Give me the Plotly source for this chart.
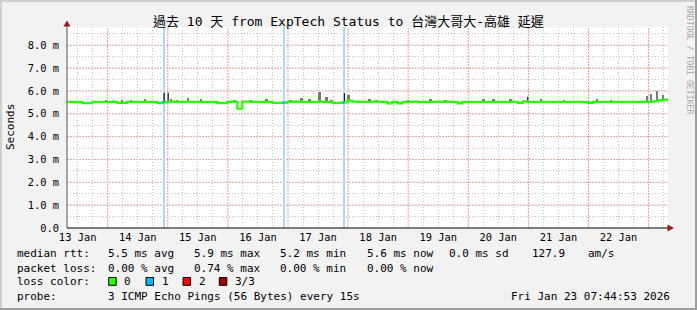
import numpy as np
import pandas as pd
import plotly.graph_objects as go

# ---------------- data ----------------
TITLE = "過去 10 天 from ExpTech Status to 台灣大哥大-高雄 延遲"
START = "2026-01-13 07:45"
END = "2026-01-23 07:45"
STEP_HOURS = 2

# median rtt (ms), one value per 2-hour step from START
MEDIAN_MS = [
    5.52, 5.52, 5.51, 5.47, 5.47, 5.52, 5.52, 5.52, 5.52, 5.52, 5.48, 5.48,
    5.52, 5.52, 5.52, 5.52, 5.52, 5.52, 5.47, 5.50, 5.53, 5.53, 5.52, 5.52,
    5.53, 5.52, 5.52, 5.52, 5.52, 5.52, 5.47, 5.47, 5.52, 5.52, 5.22, 5.53,
    5.53, 5.52, 5.52, 5.52, 5.52, 5.48, 5.48, 5.49, 5.52, 5.53, 5.53, 5.52,
    5.52, 5.52, 5.53, 5.52, 5.52, 5.47, 5.48, 5.50, 5.58, 5.53, 5.52, 5.52,
    5.52, 5.53, 5.52, 5.52, 5.46, 5.52, 5.46, 5.52, 5.52, 5.53, 5.52, 5.52,
    5.52, 5.52, 5.53, 5.52, 5.52, 5.52, 5.46, 5.52, 5.52, 5.52, 5.52, 5.52,
    5.52, 5.52, 5.52, 5.52, 5.52, 5.52, 5.48, 5.55, 5.52, 5.52, 5.52, 5.52,
    5.52, 5.52, 5.52, 5.52, 5.52, 5.52, 5.52, 5.52, 5.48, 5.52, 5.52, 5.52,
    5.52, 5.52, 5.52, 5.52, 5.52, 5.52, 5.52, 5.52, 5.52, 5.55, 5.60, 5.62,
    5.60,
]

# smoke (ping spread) peaks above the median
SMOKE_TIMES = [
    "2026-01-13 23:20", "2026-01-14 05:45", "2026-01-14 09:21", "2026-01-14 14:57",
    "2026-01-15 01:21", "2026-01-15 03:45", "2026-01-15 08:09", "2026-01-15 13:21",
    "2026-01-16 02:33", "2026-01-16 08:57", "2026-01-16 15:21", "2026-01-17 00:57",
    "2026-01-17 05:21", "2026-01-17 08:33", "2026-01-17 12:33", "2026-01-17 15:21",
    "2026-01-17 17:21", "2026-01-18 00:09", "2026-01-18 08:33", "2026-01-18 11:21",
    "2026-01-19 00:09", "2026-01-19 08:57", "2026-01-19 14:57", "2026-01-20 06:09",
    "2026-01-20 10:09", "2026-01-20 16:57", "2026-01-21 04:57", "2026-01-21 14:09",
    "2026-01-22 03:21", "2026-01-22 08:57", "2026-01-22 23:21", "2026-01-23 00:57",
    "2026-01-23 03:21", "2026-01-23 05:45",
]
SMOKE_TOP_MS = [
    5.62, 5.62, 5.60, 5.63,
    5.65, 5.60, 5.68, 5.65,
    5.60, 5.58, 5.65, 5.60,
    5.70, 5.65, 5.95, 5.72,
    5.60, 5.83, 5.65, 5.60,
    5.60, 5.65, 5.60, 5.65,
    5.65, 5.65, 5.66, 5.60,
    5.65, 5.60, 5.77, 5.87,
    6.00, 5.83,
]

# dark single-ping outliers
SPIKE_TIMES = ["2026-01-14 22:33", "2026-01-15 00:09", "2026-01-17 22:33", "2026-01-20 23:45"]
SPIKE_TOP_MS = [5.92, 5.92, 5.90, 5.75]

# packet-loss events (lost pings out of 3)
LOSS_TIMES = ["2026-01-14 22:30", "2026-01-16 22:30", "2026-01-17 22:30"]
LOSS_COUNT = [1, 1, 1]

Y_TICKS = [0, 1, 2, 3, 4, 5, 6, 7, 8]
Y_TICK_LABELS = ["0.0", "1.0 m", "2.0 m", "3.0 m", "4.0 m", "5.0 m", "6.0 m", "7.0 m", "8.0 m"]
Y_MAX = 8.8

LOSS_LEVELS = ["0", "1", "2", "3/3"]
LOSS_COLORS = ["#26ff00", "#00b8ff", "#ff0000", "#a00000"]

RTT_ITEMS = ["5.5 ms avg", "5.9 ms max", "5.2 ms min", "5.6 ms now", "0.0 ms sd", "127.9", "am/s"]
LOSS_ITEMS = ["0.00 % avg", "0.74 % max", "0.00 % min", "0.00 % now"]
PROBE_TEXT = "3 ICMP Echo Pings (56 Bytes) every 15s"
STAMP_TEXT = "Fri Jan 23 07:44:53 2026"

# ---------------- geometry ----------------
W, H = 697, 310
L, R, T, B = 67, 668, 27, 228
PW, PH = R - L, B - T


def px(x):
    return (x - L) / PW


def py(y):
    return (B - y) / PH


MONO = "DejaVu Sans Mono, Noto Sans CJK TC, monospace"
BG = "#f2f2f2"

start = pd.Timestamp(START)
end = pd.Timestamp(END)
t_med = pd.date_range(start, periods=len(MEDIAN_MS), freq=f"{STEP_HOURS}h")
med = np.array(MEDIAN_MS)
ms_per_px = (end - start).total_seconds() * 1000 / PW


def median_at(ts):
    idx = np.searchsorted(t_med.values, np.array(pd.to_datetime(ts), dtype="datetime64[ns]"), side="right") - 1
    return med[np.clip(idx, 0, len(med) - 1)]


fig = go.Figure()

# loss vertical bars
loss_t = pd.to_datetime(LOSS_TIMES)
fig.add_trace(go.Bar(
    x=loss_t, y=[Y_MAX] * len(LOSS_TIMES), width=2 * ms_per_px,
    marker=dict(color="#a8dcf6", line=dict(width=0)), hoverinfo="skip", showlegend=False,
))

# smoke bars
smoke_t = pd.to_datetime(SMOKE_TIMES)
smoke_base = median_at(SMOKE_TIMES)
fig.add_trace(go.Bar(
    x=smoke_t, y=np.array(SMOKE_TOP_MS) - smoke_base, base=smoke_base, width=2.5 * ms_per_px,
    marker=dict(color="#7a7a7a", line=dict(width=0)), hoverinfo="skip", showlegend=False,
))

# spikes
spike_t = pd.to_datetime(SPIKE_TIMES)
spike_base = median_at(SPIKE_TIMES)
sx, sy = [], []
for t, b, top in zip(spike_t, spike_base, SPIKE_TOP_MS):
    sx += [t, t, None]
    sy += [b, top, None]
fig.add_trace(go.Scatter(x=sx, y=sy, mode="lines", line=dict(color="#111111", width=1.2),
                         hoverinfo="skip", showlegend=False))

# median line (step)
t_line = list(t_med) + [t_med[-1] + pd.Timedelta(hours=STEP_HOURS)]
v_line = list(med) + [med[-1]]
fig.add_trace(go.Scatter(x=t_line, y=v_line, mode="lines", line=dict(color=LOSS_COLORS[0], width=2.2, shape="hv"),
                         hoverinfo="skip", showlegend=False))

# median segments coloured by loss
lx, ly = [], []
for t, n in zip(loss_t, LOSS_COUNT):
    v = median_at([t])[0]
    lx += [t - pd.Timedelta(minutes=50), t + pd.Timedelta(minutes=10), None]
    ly += [v, v, None]
fig.add_trace(go.Scatter(x=lx, y=ly, mode="lines", line=dict(color=LOSS_COLORS[1], width=2.2),
                         hoverinfo="skip", showlegend=False))

GRID_MINOR = "#c4c4c4"
GRID_MAJOR = "#f29a9a"

fig.update_layout(
    width=W, height=H,
    margin=dict(l=L, r=W - R, t=T, b=H - B),
    paper_bgcolor=BG, plot_bgcolor="#ffffff",
    barmode="overlay", bargap=0,
    showlegend=False,
    font=dict(family=MONO, size=11, color="#000000"),
    xaxis=dict(
        type="date", range=[start, end],
        tickmode="linear", tick0="2026-01-13", dtick=86400000,
        ticklabelmode="period", tickformat="%d %b",
        tickfont=dict(family=MONO, size=10.4, color="#000000"),
        ticks="", showline=False, zeroline=False,
        showgrid=False,
        minor=dict(tick0="2026-01-13", dtick=6 * 3600 * 1000, showgrid=True,
                   gridcolor=GRID_MINOR, griddash="1px,2px", gridwidth=1, ticks=""),
        ticklabelstandoff=2,
        fixedrange=True,
    ),
    yaxis=dict(
        range=[0, Y_MAX], tickmode="array", tickvals=Y_TICKS, ticktext=Y_TICK_LABELS,
        tickfont=dict(family=MONO, size=10.4, color="#000000"),
        ticks="", showline=False, zeroline=False,
        showgrid=False,
        minor=dict(dtick=0.5, showgrid=True, gridcolor=GRID_MINOR, griddash="1px,2px", gridwidth=1, ticks=""),
        ticklabelstandoff=7,
        fixedrange=True,
    ),
)

shapes = []
# major grid (red, dotted) at midnights and whole milliseconds
midnights = pd.date_range(start.normalize() + pd.Timedelta(days=1), end, freq="D")
for m in midnights:
    shapes.append(dict(type="line", xref="x", yref="paper", x0=m, x1=m, y0=0, y1=1,
                       line=dict(color=GRID_MAJOR, width=1, dash="2px,1px"), layer="between"))
for v in Y_TICKS[1:]:
    shapes.append(dict(type="line", xref="paper", yref="y", x0=0, x1=1, y0=v, y1=v,
                       line=dict(color=GRID_MAJOR, width=1, dash="2px,1px"), layer="between"))

# image border shading
shapes.append(dict(type="rect", xref="paper", yref="paper", x0=px(0), x1=px(W), y0=py(2), y1=py(0),
                   fillcolor="#cfcfcf", line=dict(width=0), layer="above"))
shapes.append(dict(type="rect", xref="paper", yref="paper", x0=px(0), x1=px(2), y0=py(H), y1=py(0),
                   fillcolor="#cfcfcf", line=dict(width=0), layer="above"))
shapes.append(dict(type="rect", xref="paper", yref="paper", x0=px(0), x1=px(W), y0=py(H), y1=py(H - 2),
                   fillcolor="#9e9e9e", line=dict(width=0), layer="above"))
shapes.append(dict(type="rect", xref="paper", yref="paper", x0=px(W - 2), x1=px(W), y0=py(H), y1=py(0),
                   fillcolor="#9e9e9e", line=dict(width=0), layer="above"))
# axes lines
shapes.append(dict(type="line", xref="paper", yref="paper", x0=0, x1=0, y0=0, y1=py(23),
                   line=dict(color="#555555", width=1), layer="above"))
shapes.append(dict(type="line", xref="paper", yref="paper", x0=0, x1=px(671), y0=0, y1=0,
                   line=dict(color="#000000", width=1.2), layer="above"))
# arrows
shapes.append(dict(type="path", xref="paper", yref="paper",
                   path=f"M {px(63.5)},{py(26.5)} L {px(70.5)},{py(26.5)} L {px(67)},{py(20.5)} Z",
                   fillcolor="#9b1b1b", line=dict(width=0), layer="above"))
shapes.append(dict(type="path", xref="paper", yref="paper",
                   path=f"M {px(667.5)},{py(224.5)} L {px(667.5)},{py(231.5)} L {px(674)},{py(228)} Z",
                   fillcolor="#9b1b1b", line=dict(width=0), layer="above"))

annotations = []


def text(x, y, s, size=11, anchor="left", color="#000000", angle=0):
    annotations.append(dict(xref="paper", yref="paper", x=px(x), y=py(y), text=s, showarrow=False,
                            xanchor=anchor, yanchor="middle", textangle=angle,
                            font=dict(family=MONO, size=size, color=color)))


text(348, 21.5, TITLE, size=13, anchor="center")
text(10.5, 127.5, "Seconds", size=11, anchor="center", angle=-90)
text(690, 60, "RRDTOOL / TOBI OETIKER", size=8.2, anchor="center", color="#a8a8a8", angle=90)

# legend lines
ROW_Y = [253.8, 268.6, 281.8, 296.8]
ITEM_X = [107.3, 193.3, 279.3, 365.7, 448.3, 531.0, 586.7]
text(15, ROW_Y[0], "median rtt:")
for x, s in zip(ITEM_X, RTT_ITEMS):
    text(x - 1, ROW_Y[0], s)
text(15, ROW_Y[1], "packet loss:")
for x, s in zip(ITEM_X, LOSS_ITEMS):
    text(x - 1, ROW_Y[1], s)
text(15, ROW_Y[2], "loss color:")
BOX_X = [108.7, 146.0, 183.0, 219.3]
for bx, lab, col in zip(BOX_X, LOSS_LEVELS, LOSS_COLORS):
    shapes.append(dict(type="rect", xref="paper", yref="paper", x0=px(bx), x1=px(bx + 7.5),
                       y0=py(285.3), y1=py(277.5), fillcolor=col, line=dict(color="#000000", width=1),
                       layer="above"))
    text(bx + 13.5, ROW_Y[2], lab)
text(15, ROW_Y[3], "probe:")
text(106.3, ROW_Y[3], PROBE_TEXT)
text(672, ROW_Y[3], STAMP_TEXT, anchor="right")

fig.update_layout(shapes=shapes, annotations=annotations)
fig.write_html("out.html")
